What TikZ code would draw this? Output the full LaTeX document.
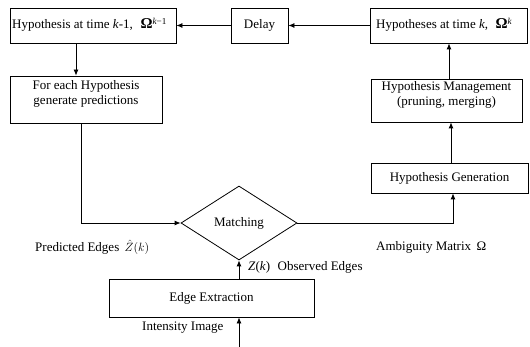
\documentclass[tikz,border=0pt]{standalone}
\usepackage{fontspec}
\setmainfont{Liberation Serif}
\usetikzlibrary{arrows.meta,shapes.geometric,calc}
\tikzset{
  box/.style={draw, line width=0.8pt, inner sep=0pt, rectangle},
  lbl/.style={inner sep=0pt, font=\fontsize{13}{15}\selectfont},
  arr/.style={line width=0.8pt, -{Latex[length=6pt,width=5pt]}},
  ln/.style={line width=0.8pt}
}
\newcommand{\BigOm}{{\fontsize{15}{15}\selectfont\textbf{Ω}}}
\begin{document}
\begin{tikzpicture}[x=1pt,y=-1pt, font=\fontsize{13}{15}\selectfont]
\useasboundingbox (0,0) rectangle (530,347);
% boxes
\node[box, minimum width=166pt, minimum height=35pt] (b1) at (93,25.5) {};
\node[lbl, anchor=west] (t1) at (12,25) {Hypothesis at time \textit{k}-1,\,\, \BigOm\textsuperscript{\textit{k}−1}};
\node[box, minimum width=57pt, minimum height=35pt] (d) at (259.5,25.5) {Delay};
\node[box, minimum width=157pt, minimum height=35pt] (hk) at (448.5,25.5) {};
\node[lbl, anchor=west] (thk) at (376,25) {Hypotheses at time \textit{k},\,\, \BigOm\textsuperscript{\textit{k}}};
\node[box, minimum width=152pt, minimum height=47pt] (b2) at (86,99.5) {};
\node[lbl, align=center] (t2) at (86,94) {For each Hypothesis\\generate predictions};
\node[box, minimum width=151pt, minimum height=43pt] (hm) at (446.5,100.5) {};
\node[lbl, align=center] (thm) at (446.5,95) {Hypothesis Management\\(pruning, merging)};
\node[box, minimum width=157pt, minimum height=30pt] (hg) at (449.5,178) {Hypothesis Generation};
\node[draw, line width=0.8pt, diamond, inner sep=0pt, minimum width=116pt, minimum height=74pt] (m) at (239,223) {Matching};
\node[box, minimum width=205pt, minimum height=38pt] (ee) at (211.5,298) {Edge Extraction};
\coordinate (in) at (239,347);
% labels
\node[lbl, anchor=west] (lp) at (35,247) {Predicted Edges \,$\hat{Z}(k)$};
\node[lbl, anchor=west] (lo) at (248,267) {\textit{Z}(\textit{k})\,\, Observed Edges};
\node[lbl, anchor=west] (la) at (376,247) {Ambiguity Matrix \,Ω};
\node[lbl, anchor=west] (li) at (142,328) {Intensity Image};
% connectors
\draw[arr] (hk.west) -- (d.east);
\draw[arr] (d.west) -- (b1.east);
\draw[arr] ([xshift=-17pt]b1.south) -- ([xshift=-17pt]b1.south |- b2.north);
\draw[arr] ([xshift=2.5pt]hm.north) -- ([xshift=2.5pt]hm.north |- hk.south);
\draw[arr] ([xshift=1.5pt]hg.north) -- ([xshift=1.5pt]hg.north |- hm.south);
\draw[arr] ([xshift=-5pt]b2.south) |- (m.west);
\draw[arr] (m.east) -| ([xshift=3.5pt]hg.south);
\draw[arr] (m.south |- ee.north) -- (m.south);
\draw[arr] (in) -- (in |- ee.south);
\end{tikzpicture}
\end{document}
